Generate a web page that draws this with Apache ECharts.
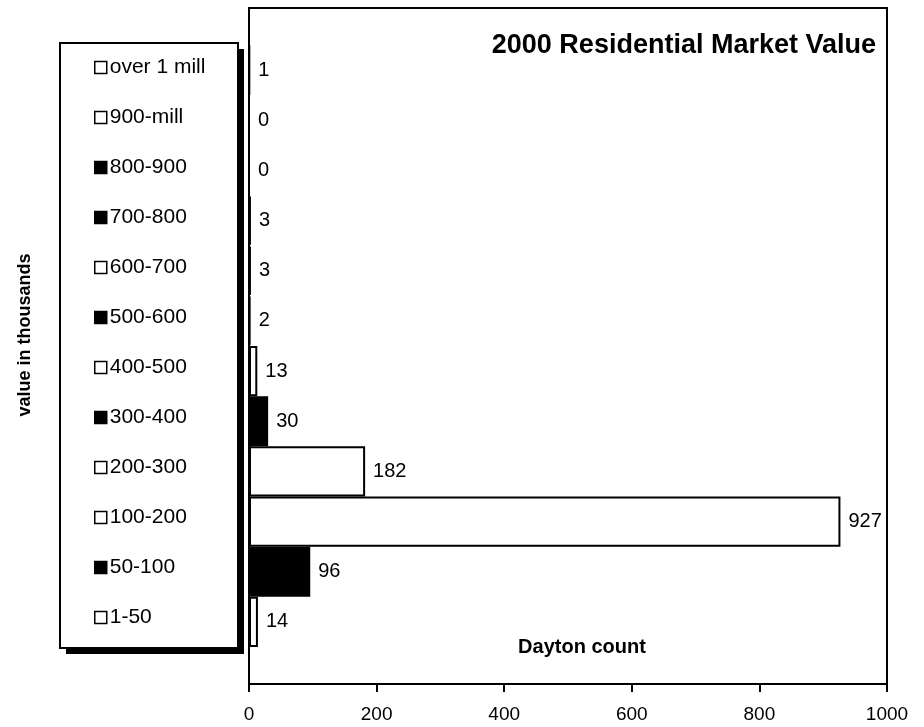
<!DOCTYPE html>
<html>
<head>
<meta charset="utf-8">
<script src="https://cdn.jsdelivr.net/npm/echarts@6/dist/echarts.min.js"></script>
<style>
  html, body { margin: 0; padding: 0; background: #fff; }
  #chart { width: 924px; height: 727px; }
</style>
</head>
<body>
<div id="chart"></div>
<script>
// Value brackets, listed bottom to top on the category axis (thousands of dollars)
const categories = ['1-50', '50-100', '100-200', '200-300', '300-400', '400-500',
                    '500-600', '600-700', '700-800', '800-900', '900-mill', 'over 1 mill'];
// Dayton residential parcel counts per bracket
const counts = [14, 96, 927, 182, 30, 13, 2, 3, 3, 0, 0, 1];
// Fill of each bracket's bar and legend swatch
const fills = ['#fff', '#000', '#fff', '#fff', '#000', '#fff',
               '#000', '#fff', '#000', '#000', '#fff', '#fff'];
// Horizontal axis ticks
const xTicks = [0, 200, 400, 600, 800, 1000];

const FONT = '"Liberation Sans", Arial, sans-serif';

// Legend frame geometry
const LEG = { x: 60, y: 43, w: 178, h: 605, shadow: 6 };

// One series per bracket so each gets its own legend entry; all share one stack
const series = categories.map((name, j) => ({
  name: name,
  type: 'bar',
  stack: 'all',
  xAxisIndex: 1,
  yAxisIndex: 1,
  barCategoryGap: '0%',
  itemStyle: { color: fills[j], borderColor: '#000', borderWidth: 2 },
  label: {
    show: true,
    position: 'right',
    distance: 8,
    color: '#000',
    fontFamily: FONT,
    fontSize: 20
  },
  emphasis: { disabled: true },
  data: categories.map((c, i) => (i === j ? counts[j] : '-'))
}));

const chart = echarts.init(document.getElementById('chart'), null, { renderer: 'canvas' });
chart.setOption({
  animation: false,
  backgroundColor: '#fff',
  title: [
    {
      text: '2000 Residential Market Value',
      right: 48, top: 32, padding: 0,
      textStyle: { fontFamily: FONT, fontWeight: 'bold', fontSize: 27, color: '#000' }
    },
    {
      text: 'Dayton count',
      left: 582, top: 637, textAlign: 'center', padding: 0,
      textStyle: { fontFamily: FONT, fontWeight: 'bold', fontSize: 20, color: '#000' }
    }
  ],
  legend: {
    orient: 'vertical',
    left: LEG.x, top: LEG.y,
    padding: [14, 20, 23, 34],
    itemGap: 29,
    itemWidth: 12, itemHeight: 12,
    icon: 'rect',
    itemStyle: { borderColor: '#000', borderWidth: 1.5 },
    selectedMode: false,
    z: 10,
    textStyle: { fontFamily: FONT, fontSize: 21, color: '#000', lineHeight: 20, padding: [0, 0, 0, -2] },
    data: categories.slice().reverse()
  },
  grid: [
    // outer plot frame carrying the count axis
    { left: 249, right: 37, top: 8, bottom: 43, show: true, borderColor: '#000', borderWidth: 2, backgroundColor: 'transparent' },
    // bar band area inside the frame
    { left: 249, right: 37, top: 45, bottom: 80 }
  ],
  xAxis: [
    {
      gridIndex: 0, type: 'value', min: xTicks[0], max: xTicks[xTicks.length - 1],
      interval: xTicks[1] - xTicks[0],
      splitLine: { show: false },
      axisLine: { show: true, lineStyle: { color: '#000', width: 2 } },
      axisTick: { show: true, length: 8, lineStyle: { color: '#000', width: 2 } },
      axisLabel: { color: '#000', fontFamily: FONT, fontSize: 19, margin: 21, formatter: v => String(v) }
    },
    {
      gridIndex: 1, type: 'value', min: xTicks[0], max: xTicks[xTicks.length - 1],
      show: false, splitLine: { show: false }
    }
  ],
  yAxis: [
    {
      gridIndex: 0, type: 'value', min: 0, max: 1,
      axisLine: { show: true, lineStyle: { color: '#000', width: 2 } },
      axisTick: { show: false }, axisLabel: { show: false }, splitLine: { show: false }
    },
    {
      gridIndex: 1, type: 'category', data: categories, show: false
    }
  ],
  graphic: [
    // legend drop shadow
    {
      type: 'rect', z: 1,
      shape: { x: LEG.x + LEG.shadow, y: LEG.y + LEG.shadow, width: LEG.w, height: LEG.h },
      style: { fill: '#000' }
    },
    // legend frame
    {
      type: 'rect', z: 2,
      shape: { x: LEG.x, y: LEG.y, width: LEG.w, height: LEG.h },
      style: { fill: '#fff', stroke: '#000', lineWidth: 2 }
    },
    {
      type: 'text',
      x: 25, y: 335,
      rotation: Math.PI / 2,
      style: {
        text: 'value in thousands',
        fontFamily: FONT, fontWeight: 'bold', fontSize: 18, fill: '#000',
        align: 'center', verticalAlign: 'middle'
      }
    }
  ],
  series: series
});
</script>
</body>
</html>
